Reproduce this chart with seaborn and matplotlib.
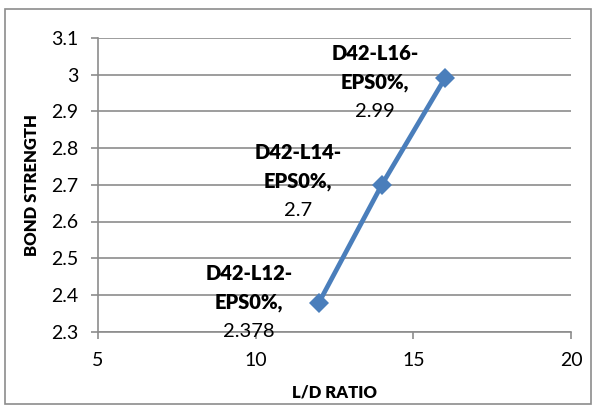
import matplotlib
matplotlib.use("Agg")
import matplotlib.pyplot as plt
from matplotlib.patches import Rectangle
import seaborn as sns
import pandas as pd

# Bond strength versus L/D ratio for the D42 / EPS0% series
ld_ratio = [12, 14, 16]
bond_strength = [2.378, 2.7, 2.99]
specimen_names = ["D42-L12-", "D42-L14-", "D42-L16-"]
mix_names = ["EPS0%,", "EPS0%,", "EPS0%,"]
value_texts = ["2.378", "2.7", "2.99"]

x_ticks = [5, 10, 15, 20]
y_ticks = [2.3, 2.4, 2.5, 2.6, 2.7, 2.8, 2.9, 3.0, 3.1]
y_tick_labels = ["2.3", "2.4", "2.5", "2.6", "2.7", "2.8", "2.9", "3", "3.1"]

sns.set_theme(style="white")
plt.rcParams["font.family"] = ["Lato", "DejaVu Sans"]

GRID = "#8c8c8c"
BLUE = "#4a7ebb"

df = pd.DataFrame({"ld": ld_ratio, "bs": bond_strength})

fig = plt.figure(figsize=(5.95, 4.08), dpi=100)
ax = fig.add_axes([98 / 595, 1 - 331.6 / 408, 473 / 595, 293.6 / 408])

sns.lineplot(data=df, x="ld", y="bs", ax=ax, color=BLUE, linewidth=3.4,
             marker="D", markersize=10, markeredgewidth=0, zorder=3)

ax.set_xlim(5, 20)
ax.set_ylim(2.3, 3.1)
ax.set_xticks(x_ticks)
ax.set_xticklabels([str(t) for t in x_ticks])
ax.set_yticks(y_ticks)
ax.set_yticklabels(y_tick_labels)
ax.yaxis.grid(True, color=GRID, linewidth=1.2)
ax.xaxis.grid(False)
for side in ["top", "right"]:
    ax.spines[side].set_visible(False)
for side in ["left", "bottom"]:
    ax.spines[side].set_color(GRID)
    ax.spines[side].set_linewidth(1.2)
ax.tick_params(axis="both", which="both", direction="out", length=5, width=1.2,
               color=GRID, labelsize=14, labelcolor="black",
               left=True, bottom=True)
ax.tick_params(axis="y", pad=9)
ax.tick_params(axis="x", pad=10)

ax.set_xlabel("L/D RATIO", labelpad=11)
ax.set_ylabel("BOND STRENGTH", labelpad=8)
for lab in (ax.xaxis.label, ax.yaxis.label):
    lab.set_fontsize(12)
    lab.set_fontweight("heavy")
    lab.set_color("black")

# data labels placed to the left of each point, three lines each
label_offsets = [(-70, 0), (-84, 3), (-70, -4)]
line_gap = 29
for xv, yv, n1, n2, v, (dx, dy) in zip(ld_ratio, bond_strength, specimen_names,
                                       mix_names, value_texts, label_offsets):
    for k, (txt, wt) in enumerate([(n1, "heavy"), (n2, "heavy"), (v, "normal")]):
        ax.annotate(txt, (xv, yv), xytext=(dx, dy + line_gap * (1 - k)),
                    textcoords="offset pixels", ha="center", va="center",
                    fontsize=14.5, fontweight=wt, color="black", zorder=4,
                    annotation_clip=False)

# outer chart border
fig.patches.append(Rectangle((5 / 595, 1 - 404 / 408), 586 / 595, 395 / 408,
                             transform=fig.transFigure, fill=False,
                             edgecolor="#8c8c8c", linewidth=1.2))

fig.savefig("out.png", dpi=100)
